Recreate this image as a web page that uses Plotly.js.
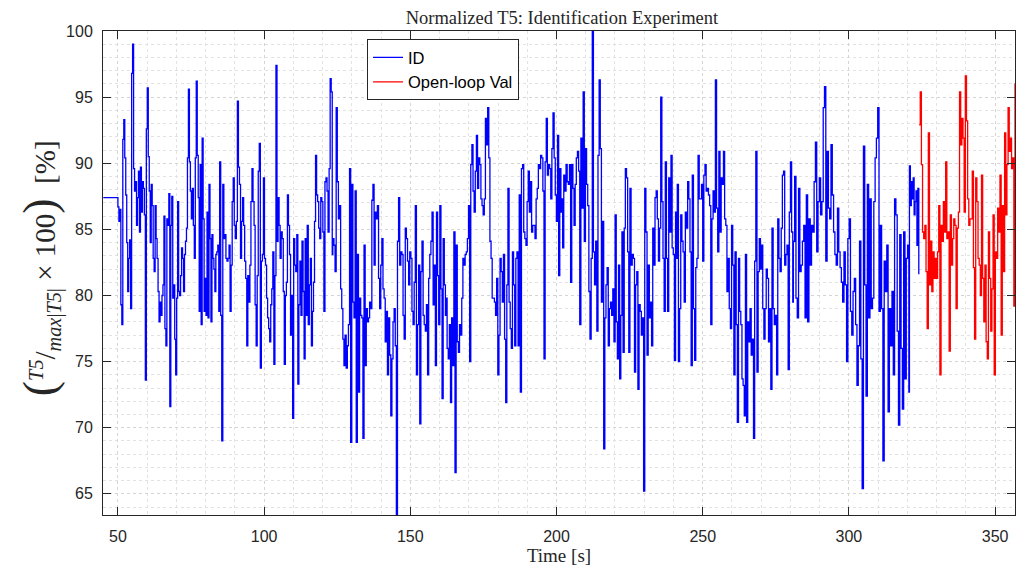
<!DOCTYPE html>
<html>
<head>
<meta charset="utf-8">
<script src="https://cdn.plot.ly/plotly-3.0.1.min.js"></script>
<style>html,body{margin:0;padding:0;background:#fff;}#chart{width:1018px;height:569px;}</style>
</head>
<body>
<div id="chart"></div>
<script>
// ---- data ----
const idLead = [87.4, 87.4];
const idLeadSpan = [45, 50];

const id1 = [86.7,85.6,86.5,79.3,77.8,91.8,93.3,90.4,87.6,84.0,80.3,82.8,84.2,79.0,96.8,99.0,89.6,87.9,88.6,85.3,87.4,89.4,84.8,89.7,86.3,88.6,88.1,86.1,73.6,92.6,95.7,90.5,87.9,84.0,88.4,86.8,82.8,81.8,86.8,84.3,82.8,80.3,78.0,79.5,78.5,80.0,80.8,86.0,77.5,76.2,85.8,85.3,87.7,71.6,85.3,87.5,79.8,80.8,76.7,74.0,79.8,87.1,80.3,80.0,81.5,83.6,82.8,80.3,83.1,84.1,85.1,90.4,95.6,90.1,87.9,85.8,88.1,85.3,82.8,90.4,96.2,90.6,87.4,78.8,89.9,77.8,91.9,85.8,78.8,81.3,78.5,86.3,78.3,88.4,84.3,78.0,84.6,82.8,82.0,80.3,83.1,83.3,83.8,78.8];
const id1Span = [50.0, 84.5];

const id2 = [90.1,78.5,69.0,88.4,84.3,84.6,82.8,82.6,82.8,83.8,78.8,82.3,87.1,88.9,85.3,84.3,85.6,94.7,89.7,88.4,82.8,85.6,87.4,85.3,82.6,81.3,76.2,81.5,79.5,82.3,87.1,89.6,87.1,85.3,79.3,76.2,81.5,89.4,91.5,74.5,82.6,83.1,88.9,82.8,82.3,79.8,78.3,77.5,76.5,79.3,80.5,83.3,74.8,81.5,97.4,84.1,87.4,85.3,82.8,84.8,84.3,80.3,74.8,80.0,81.0,87.6,85.3,83.1,77.0,80.0,70.7,84.3,82.3,81.8,84.6,73.3,79.3,82.6,78.5,84.1,80.3,75.2,84.3,78.5,85.3,77.8,80.8,82.8,76.2,78.8,81.0,85.6,90.6,87.6,87.1,85.1,84.3,87.4,87.1,84.8,78.8,88.6,88.9,87.9,84.8,89.6,96.4,95.4,83.1];
const id2Span = [84.8, 123.3];

const id3 = [84.3,83.8,81.8,94.2,88.6,85.8,86.8,80.5,79.0,76.7,74.7,77.0,74.5,76.2,77.8,89.6,68.9,88.4,79.5,78.3,87.9,68.9,83.1,72.7,79.8,78.5,78.3,69.2,83.8,74.7,79.0,78.0,78.3,79.5,79.0,87.2,88.4,82.3,86.3,85.8,86.8,81.3,79.0,82.3,84.3,80.5,79.8,76.5,78.8,74.0,78.3,75.5,70.9,75.2,78.0,79.0,76.2,63.0,84.1,87.4,82.3,83.3,83.1,78.5,76.7,85.1,84.3,82.6,80.8,83.3,82.8,78.8,77.8,81.0,86.8,74.0,77.8,82.3,70.3,81.8,84.1,78.5,77.8,77.3,79.3,74.0,81.3,83.1,84.1,86.3,79.3,82.3,74.7,86.3,81.5,77.8,86.8,80.5,72.2,84.3,80.8,78.5];
const id3Span = [123.5, 162.0];

const id4 = [79.8,76.0,75.2,77.8,71.9,78.3,74.7,84.8,66.6,83.8,76.5,75.7,77.8,77.0,79.8,82.8,82.3,83.1,83.3,84.3,86.8,75.0,89.9,91.4,87.9,86.3,89.4,92.1,88.1,90.4,89.9,87.3,86.8,86.1,87.3,93.4,91.4,94.2,90.4,84.1,82.8,79.8,79.8,79.5,78.5,81.3,74.0,77.0,82.8,81.8,79.5,83.1,76.7,71.9,80.8,88.1,79.5,77.5,76.0,83.3,80.8,76.2,82.8,83.3,76.2,87.6,72.7,89.6,89.9,84.8,84.3,83.8,87.1,89.4,86.3,88.6,84.8,85.3,85.3,84.3,87.3,88.1,89.9,89.6,90.6,90.4,87.9,75.2,90.1,93.4,89.1,89.9,89.6,87.3,91.1,93.8,90.4,87.6,85.6,92.1,81.5,89.6,86.3];
const id4Span = [162.2, 201.5];

const id5 = [87.3,83.6,89.1,87.9,89.9,88.6,88.4,89.9,81.0,89.9,88.1,85.3,88.4,90.4,90.9,89.4,77.8,91.9,86.6,95.4,84.1,91.1,88.4,86.8,80.3,76.7,82.8,100.0,83.3,80.8,84.1,77.3,90.6,96.3,91.1,79.5,85.6,68.4,78.3,80.8,82.1,76.2,79.0,79.5,78.5,80.5,76.5,86.1,78.0,75.2,82.3,73.7,78.5,84.8,75.7,85.1,89.6,88.9,83.3,75.7,88.1,82.3,83.1,82.8,74.2,80.8,81.8,72.9,79.3,78.8,77.0,78.3,65.2,88.1,84.8,75.5,82.3,78.3,79.5,76.2,85.1,82.3,87.4,87.9,85.8,82.6,85.1,95.0,87.1,82.8,78.8,90.1,82.8,78.8,88.9,84.8,90.6,83.6,83.1,75.1,86.3,82.8];
const id5Span = [201.7, 241.1];

const id6 = [88.4,75.0,79.0,86.1,84.1,83.3,79.5,86.3,85.1,88.6,87.3,83.3,74.7,89.1,79.0,75.1,82.1,82.8,90.6,87.3,87.3,88.4,82.6,89.1,89.9,87.9,88.1,87.6,86.8,77.8,85.8,87.9,86.3,96.3,86.6,83.3,90.9,84.8,88.9,88.4,90.9,85.8,85.3,80.3,82.8,79.0,77.5,85.3,82.3,74.0,83.3,77.8,70.4,82.8,78.8,77.8,73.7,73.2,70.9,83.1,70.4,78.0,76.5,79.0,75.5,76.7,69.2,82.6,90.9,74.2,81.8,84.3,82.0,83.8,79.0,76.7,79.0,82.0,81.3,76.5,79.0,72.9,85.1,79.0,77.8,78.5,74.0,85.8,82.8,81.8,85.1,89.1,89.4,82.3,83.1,83.8,74.4,86.3,90.1,84.8,79.5];
const id6Span = [241.3, 280.8];

const id7 = [84.1,89.0,79.8,78.3,88.1,81.8,82.3,84.1,85.3,78.3,87.6,78.0,85.8,82.3,85.3,84.8,88.6,91.6,83.3,87.1,88.9,86.1,87.1,94.2,95.8,82.6,90.9,86.6,85.8,91.4,87.6,84.8,83.1,82.3,86.6,83.3,82.1,81.0,79.5,83.3,80.8,75.0,84.3,85.8,78.8,77.0,80.3,81.3,77.8,73.2,76.2,84.1,75.2,65.4,91.3,80.8,72.4,88.4,78.3,87.3,79.0,79.8,87.1,90.4,91.9,94.2,78.8,85.3,79.0,67.5,82.6,80.3,83.8,71.2,79.0,76.2,80.3,74.0,87.3,86.1,77.3,70.2,84.6,76.0,71.4,84.8,73.7,82.8,83.8,72.7];
const id7Span = [281.0, 320.5];

const id8 = [89.8,86.8,88.6,87.3,88.9,86.1,87.1,87.9,83.8,88.1,81.6];
const id8Span = [320.7, 323.9];

const val = [92.9,95.4,89.9,84.8,84.3,85.3,81.8,77.5,92.3,80.8,84.1,80.3,83.3,81.3,82.8,81.3,83.3,86.8,74.0,85.3,84.1,87.1,84.8,90.1,84.3,84.8,75.8,86.1,82.3,84.3,85.8,85.3,79.0,85.1,86.3,95.4,91.4,93.4,91.9,86.3,96.6,93.2,87.3,85.3,85.8,85.8,89.4,82.1,76.7,88.9,87.1,82.8,82.3,80.0,89.1,81.3,78.0,82.3,76.5,75.2,84.8,81.3,77.3,80.5,86.1,74.0,83.3,82.8,86.6,84.8,89.1,77.0,86.8,81.8,92.3,86.1,89.9,94.2,90.9,91.9,89.6,90.4,79.2,96.0,100.0];
const valSpan = [324.0, 357.2];

const xTicks = [50, 100, 150, 200, 250, 300, 350];
const yTicks = [65, 70, 75, 80, 85, 90, 95, 100];

// ---- build series ----
function times(vals, span) {
  const n = vals.length;
  return vals.map((_, i) => span[0] + (span[1] - span[0]) * i / (n - 1));
}
const idParts = [[idLead, idLeadSpan],[id1, id1Span],[id2, id2Span],[id3, id3Span],[id4, id4Span],[id5, id5Span],[id6, id6Span],[id7, id7Span],[id8, id8Span]];
let idX = [], idY = [];
idParts.forEach(([v, s]) => { idX = idX.concat(times(v, s)); idY = idY.concat(v); });
const valX = times(val, valSpan);

const axisColor = '#262626';
const tickFont = {family: 'Liberation Sans, Arial, sans-serif', size: 16, color: axisColor};
const serif = 'Liberation Serif, Times New Roman, serif';

const traces = [
  {x: idX, y: idY, type: 'scatter', mode: 'lines', name: 'ID',
   line: {color: '#0000ff', width: 1.3, shape: 'hv'}},
  {x: valX, y: val, type: 'scatter', mode: 'lines', name: 'Open-loop Val',
   line: {color: '#ff0000', width: 1.3, shape: 'hv'}}
];

const layout = {
  width: 1018, height: 569,
  margin: {l: 103, r: 3, t: 31, b: 54},
  paper_bgcolor: '#ffffff', plot_bgcolor: '#ffffff',
  showlegend: true,
  title: {text: 'Normalized T5: Identification Experiment',
          font: {family: serif, size: 18.5, color: axisColor},
          x: 0.552, xanchor: 'center', y: 0.969, yanchor: 'middle'},
  xaxis: {
    range: [44.9, 356.8], tickvals: xTicks, ticktext: xTicks.map(String),
    ticks: 'inside', ticklen: 8, tickcolor: axisColor, tickwidth: 1,
    showline: true, linecolor: axisColor, linewidth: 1, mirror: 'ticks',
    showgrid: true, gridcolor: '#d4d4d4', griddash: 'dot', gridwidth: 1,
    minor: {dtick: 10, tick0: 0, showgrid: true, gridcolor: '#e2e2e2', griddash: 'dot', gridwidth: 1, ticks: ''},
    zeroline: false, tickfont: tickFont, ticklabelstandoff: 7,
    title: {text: 'Time [s]', font: {family: serif, size: 19, color: axisColor}, standoff: 2}
  },
  yaxis: {
    range: [63.4, 100], tickvals: yTicks, ticktext: yTicks.map(String),
    ticks: 'inside', ticklen: 8, tickcolor: axisColor, tickwidth: 1,
    showline: true, linecolor: axisColor, linewidth: 1, mirror: 'ticks',
    showgrid: true, gridcolor: '#d4d4d4', griddash: 'dot', gridwidth: 1,
    minor: {dtick: 1, tick0: 0, showgrid: true, gridcolor: '#e2e2e2', griddash: 'dot', gridwidth: 1, ticks: ''},
    zeroline: false, tickfont: tickFont, ticklabelstandoff: 6
  },
  legend: {
    x: 0.2895, y: 0.983, xanchor: 'left', yanchor: 'top',
    bgcolor: '#ffffff', bordercolor: axisColor, borderwidth: 1,
    font: {family: 'Liberation Sans, Arial, sans-serif', size: 16.5, color: '#000000'},
    tracegroupgap: 0, itemwidth: 30
  },
  annotations: [{
    xref: 'paper', yref: 'paper', x: -0.069, y: 0.51, xanchor: 'center', yanchor: 'middle',
    textangle: -90, showarrow: false,
    text: '<span style="font-size:46px">(</span><sup><i>T5</i></sup>/<sub><i>max</i>|<i>T5</i>|</sub> × 100<span style="font-size:46px">)</span>  [%]',
    font: {family: serif, size: 29, color: axisColor}
  }]
};

Plotly.newPlot('chart', traces, layout, {displayModeBar: false, staticPlot: true});
</script>
</body>
</html>
